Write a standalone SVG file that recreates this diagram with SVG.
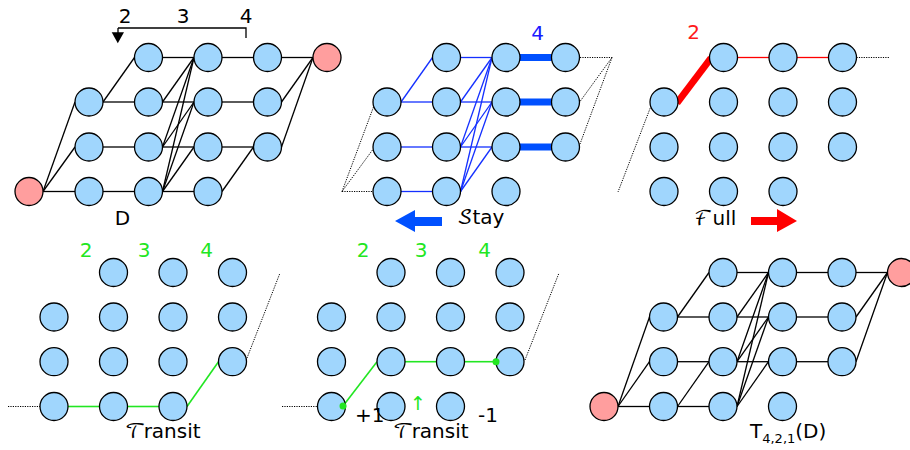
<svg xmlns="http://www.w3.org/2000/svg" width="910" height="450" viewBox="0 0 910 450">
<style>
.n{fill:#a0d6fd;stroke:#000;stroke-width:1.3}
.r{fill:#ff9e9e;stroke:#000;stroke-width:1.3}
.e line{stroke:#000;stroke-width:1.3}
.b line{stroke:#1430ff;stroke-width:1.3}
.bt line{stroke:#0050ff;stroke-width:7}
.rd{stroke:#ff0000;stroke-width:1.3}
.rt{stroke:#ff0000;stroke-width:7}
.g line{stroke:#22e622;stroke-width:1.6}
.d line{stroke:#000;stroke-width:1;stroke-dasharray:1.2 1.2}
text{font-family:"DejaVu Sans","Liberation Sans",sans-serif;font-size:20px}
.sc{font-family:"DejaVu Math TeX Gyre","DejaVu Sans","DejaVu Serif",serif}
.gl{fill:#22e622;text-anchor:middle}
</style>

<!-- Panel 1: D -->
<g id="panel1">
  <g id="p1-connectors" class="e">
    <line x1="162.5" y1="57.5" x2="194" y2="57.5"/><line x1="222" y1="57.5" x2="253.5" y2="57.5"/><line x1="281.5" y1="57.5" x2="313" y2="57.5"/>
    <line x1="103" y1="102" x2="134.5" y2="102"/><line x1="162.5" y1="102" x2="194" y2="102"/><line x1="222" y1="102" x2="253.5" y2="102"/>
    <line x1="103" y1="147" x2="134.5" y2="147"/><line x1="162.5" y1="147" x2="194" y2="147"/><line x1="222" y1="147" x2="253.5" y2="147"/>
    <line x1="43" y1="191.5" x2="75" y2="191.5"/><line x1="103" y1="191.5" x2="134.5" y2="191.5"/><line x1="162.5" y1="191.5" x2="194" y2="191.5"/>
    <line x1="43" y1="191.5" x2="75" y2="147"/><line x1="43" y1="191.5" x2="75" y2="102"/>
    <line x1="103" y1="102" x2="134.5" y2="57.5"/>
    <line x1="162.5" y1="102" x2="194" y2="57.5"/>
    <line x1="162.5" y1="147" x2="194" y2="57.5"/><line x1="162.5" y1="147" x2="194" y2="102"/>
    <line x1="162.5" y1="191.5" x2="194" y2="57.5"/><line x1="162.5" y1="191.5" x2="194" y2="102"/><line x1="162.5" y1="191.5" x2="194" y2="147"/>
    <line x1="222" y1="191.5" x2="253.5" y2="147"/>
    <line x1="281.5" y1="147" x2="313" y2="57.5"/><line x1="281.5" y1="102" x2="313" y2="57.5"/>
  </g>
  <g id="p1-n13"><circle class="n" cx="148.5" cy="57.5" r="14"/></g>
  <g id="p1-n14"><circle class="n" cx="208" cy="57.5" r="14"/></g>
  <g id="p1-n15"><circle class="n" cx="267.5" cy="57.5" r="14"/></g>
  <g id="p1-t"><circle class="r" cx="327" cy="57.5" r="14"/></g>
  <g id="p1-n22"><circle class="n" cx="89" cy="102" r="14"/></g>
  <g id="p1-n23"><circle class="n" cx="148.5" cy="102" r="14"/></g>
  <g id="p1-n24"><circle class="n" cx="208" cy="102" r="14"/></g>
  <g id="p1-n25"><circle class="n" cx="267.5" cy="102" r="14"/></g>
  <g id="p1-n32"><circle class="n" cx="89" cy="147" r="14"/></g>
  <g id="p1-n33"><circle class="n" cx="148.5" cy="147" r="14"/></g>
  <g id="p1-n34"><circle class="n" cx="208" cy="147" r="14"/></g>
  <g id="p1-n35"><circle class="n" cx="267.5" cy="147" r="14"/></g>
  <g id="p1-s"><circle class="r" cx="29" cy="191.5" r="14"/></g>
  <g id="p1-n42"><circle class="n" cx="89" cy="191.5" r="14"/></g>
  <g id="p1-n43"><circle class="n" cx="148.5" cy="191.5" r="14"/></g>
  <g id="p1-n44"><circle class="n" cx="208" cy="191.5" r="14"/></g>
  <g id="p1-bracket">
    <path d="M118,28 H246 V38 M118,28 V33" fill="none" stroke="#000" stroke-width="1.3"/>
    <polygon points="111.7,32.3 124,32.3 117.8,43.3" fill="#000"/>
    <text x="125" y="23" text-anchor="middle">2</text>
    <text x="183" y="23" text-anchor="middle">3</text>
    <text x="246" y="23" text-anchor="middle">4</text>
  </g>
  <text x="122.5" y="225" text-anchor="middle">D</text>
</g>

<!-- Panel 2: Stay -->
<g id="panel2">
  <g id="p2-connectors">
    <g class="b">
      <line x1="460.5" y1="57.5" x2="492" y2="57.5"/>
      <line x1="401" y1="102" x2="432.5" y2="102"/><line x1="460.5" y1="102" x2="492" y2="102"/>
      <line x1="401" y1="147" x2="432.5" y2="147"/><line x1="460.5" y1="147" x2="492" y2="147"/>
      <line x1="401" y1="191.5" x2="432.5" y2="191.5"/>
      <line x1="401" y1="102" x2="432.5" y2="57.5"/>
      <line x1="460.5" y1="102" x2="492" y2="57.5"/>
      <line x1="460.5" y1="147" x2="492" y2="57.5"/><line x1="460.5" y1="147" x2="492" y2="102"/>
      <line x1="460.5" y1="191.5" x2="492" y2="57.5"/><line x1="460.5" y1="191.5" x2="492" y2="102"/><line x1="460.5" y1="191.5" x2="492" y2="147"/>
    </g>
    <g class="bt">
      <line x1="518" y1="57.5" x2="553" y2="57.5"/>
      <line x1="518" y1="102" x2="553" y2="102"/>
      <line x1="518" y1="147" x2="553" y2="147"/>
    </g>
    <g class="d">
      <line x1="580" y1="57.5" x2="612" y2="57.5"/>
      <line x1="612" y1="57.5" x2="580" y2="101.5"/>
      <line x1="612" y1="57.5" x2="580" y2="144"/>
      <line x1="342" y1="191.5" x2="373" y2="191.5"/>
      <line x1="342" y1="191.5" x2="372.5" y2="150"/>
      <line x1="342" y1="191.5" x2="373.5" y2="107"/>
    </g>
  </g>
  <g id="p2-n13"><circle class="n" cx="446.5" cy="57.5" r="14"/></g>
  <g id="p2-n14"><circle class="n" cx="506" cy="57.5" r="14"/></g>
  <g id="p2-n15"><circle class="n" cx="565.5" cy="57.5" r="14"/></g>
  <g id="p2-n22"><circle class="n" cx="387" cy="102" r="14"/></g>
  <g id="p2-n23"><circle class="n" cx="446.5" cy="102" r="14"/></g>
  <g id="p2-n24"><circle class="n" cx="506" cy="102" r="14"/></g>
  <g id="p2-n25"><circle class="n" cx="565.5" cy="102" r="14"/></g>
  <g id="p2-n32"><circle class="n" cx="387" cy="147" r="14"/></g>
  <g id="p2-n33"><circle class="n" cx="446.5" cy="147" r="14"/></g>
  <g id="p2-n34"><circle class="n" cx="506" cy="147" r="14"/></g>
  <g id="p2-n35"><circle class="n" cx="565.5" cy="147" r="14"/></g>
  <g id="p2-n42"><circle class="n" cx="387" cy="191.5" r="14"/></g>
  <g id="p2-n43"><circle class="n" cx="446.5" cy="191.5" r="14"/></g>
  <g id="p2-n44"><circle class="n" cx="506" cy="191.5" r="14"/></g>
  <text x="537.5" y="40" text-anchor="middle" fill="#1a1aff">4</text>
  <polygon points="442,217 415,217 415,210 395,221 415,232 415,226 442,226" fill="#0050ff"/>
  <text x="457" y="224"><tspan class="sc">𝒮</tspan>tay</text>
</g>

<!-- Panel 3: Full -->
<g id="panel3">
  <g id="p3-connectors">
    <line class="rt" x1="677" y1="103" x2="711" y2="58"/>
    <line class="rd" x1="737.5" y1="57.5" x2="769" y2="57.5"/>
    <line class="rd" x1="797" y1="57.5" x2="828.5" y2="57.5"/>
    <g class="d">
      <line x1="856.5" y1="57.5" x2="889" y2="57.5"/>
      <line x1="651" y1="106" x2="618" y2="192"/>
    </g>
  </g>
  <g id="p3-n13"><circle class="n" cx="723.5" cy="57.5" r="14"/></g>
  <g id="p3-n14"><circle class="n" cx="783" cy="57.5" r="14"/></g>
  <g id="p3-n15"><circle class="n" cx="842.5" cy="57.5" r="14"/></g>
  <g id="p3-n22"><circle class="n" cx="664" cy="102" r="14"/></g>
  <g id="p3-n23"><circle class="n" cx="723.5" cy="102" r="14"/></g>
  <g id="p3-n24"><circle class="n" cx="783" cy="102" r="14"/></g>
  <g id="p3-n25"><circle class="n" cx="842.5" cy="102" r="14"/></g>
  <g id="p3-n32"><circle class="n" cx="664" cy="147" r="14"/></g>
  <g id="p3-n33"><circle class="n" cx="723.5" cy="147" r="14"/></g>
  <g id="p3-n34"><circle class="n" cx="783" cy="147" r="14"/></g>
  <g id="p3-n35"><circle class="n" cx="842.5" cy="147" r="14"/></g>
  <g id="p3-n42"><circle class="n" cx="664" cy="191.5" r="14"/></g>
  <g id="p3-n43"><circle class="n" cx="723.5" cy="191.5" r="14"/></g>
  <g id="p3-n44"><circle class="n" cx="783" cy="191.5" r="14"/></g>
  <text x="693.5" y="39" text-anchor="middle" fill="#ff1a1a">2</text>
  <text x="694" y="225"><tspan class="sc">ℱ</tspan>ull</text>
  <polygon points="751,217 777,217 777,209 797,221 777,232 777,225 751,225" fill="#ff0000"/>
</g>

<!-- Panel 4: Transit -->
<g id="panel4">
  <g id="p4-connectors">
    <g class="g">
      <line x1="68" y1="406.5" x2="99.5" y2="406.5"/>
      <line x1="127.5" y1="406.5" x2="159" y2="406.5"/>
      <line x1="187" y1="406.5" x2="218.5" y2="361.7"/>
    </g>
    <g class="d">
      <line x1="8" y1="406.5" x2="40" y2="406.5"/>
      <line x1="247" y1="358" x2="280" y2="273"/>
    </g>
  </g>
  <g id="p4-n13"><circle class="n" cx="113.5" cy="272.5" r="14"/></g>
  <g id="p4-n14"><circle class="n" cx="173" cy="272.5" r="14"/></g>
  <g id="p4-n15"><circle class="n" cx="232.5" cy="272.5" r="14"/></g>
  <g id="p4-n22"><circle class="n" cx="54" cy="317" r="14"/></g>
  <g id="p4-n23"><circle class="n" cx="113.5" cy="317" r="14"/></g>
  <g id="p4-n24"><circle class="n" cx="173" cy="317" r="14"/></g>
  <g id="p4-n25"><circle class="n" cx="232.5" cy="317" r="14"/></g>
  <g id="p4-n32"><circle class="n" cx="54" cy="361.7" r="14"/></g>
  <g id="p4-n33"><circle class="n" cx="113.5" cy="361.7" r="14"/></g>
  <g id="p4-n34"><circle class="n" cx="173" cy="361.7" r="14"/></g>
  <g id="p4-n35"><circle class="n" cx="232.5" cy="361.7" r="14"/></g>
  <g id="p4-n42"><circle class="n" cx="54" cy="406.5" r="14"/></g>
  <g id="p4-n43"><circle class="n" cx="113.5" cy="406.5" r="14"/></g>
  <g id="p4-n44"><circle class="n" cx="173" cy="406.5" r="14"/></g>
  <text class="gl" x="86" y="256.7">2</text>
  <text class="gl" x="144" y="256.7">3</text>
  <text class="gl" x="206.7" y="256.7">4</text>
  <text x="125" y="438"><tspan class="sc">𝒯</tspan><tspan dx="-2">ransit</tspan></text>
</g>

<!-- Panel 5: Transit with +1/-1 -->
<g id="panel5">
  <g id="p5-connectors">
    <g class="g">
      <line x1="343" y1="406" x2="377" y2="361.7"/>
      <line x1="405" y1="361.7" x2="436.5" y2="361.7"/>
      <line x1="464.5" y1="361.7" x2="496" y2="361.7"/>
    </g>
    <g class="d">
      <line x1="282" y1="406.5" x2="317.5" y2="406.5"/>
      <line x1="525" y1="360" x2="559" y2="273"/>
    </g>
  </g>
  <g id="p5-n13"><circle class="n" cx="391" cy="272.5" r="14"/></g>
  <g id="p5-n14"><circle class="n" cx="450.5" cy="272.5" r="14"/></g>
  <g id="p5-n15"><circle class="n" cx="510" cy="272.5" r="14"/></g>
  <g id="p5-n22"><circle class="n" cx="331.5" cy="317" r="14"/></g>
  <g id="p5-n23"><circle class="n" cx="391" cy="317" r="14"/></g>
  <g id="p5-n24"><circle class="n" cx="450.5" cy="317" r="14"/></g>
  <g id="p5-n25"><circle class="n" cx="510" cy="317" r="14"/></g>
  <g id="p5-n32"><circle class="n" cx="331.5" cy="361.7" r="14"/></g>
  <g id="p5-n33"><circle class="n" cx="391" cy="361.7" r="14"/></g>
  <g id="p5-n34"><circle class="n" cx="450.5" cy="361.7" r="14"/></g>
  <g id="p5-n35"><circle class="n" cx="510" cy="361.7" r="14"/></g>
  <g id="p5-n42"><circle class="n" cx="331.5" cy="406.5" r="14"/></g>
  <g id="p5-n43"><circle class="n" cx="391" cy="406.5" r="14"/></g>
  <g id="p5-n44"><circle class="n" cx="450.5" cy="406.5" r="14"/></g>
  <circle cx="343" cy="406" r="3.5" fill="#22e622"/>
  <circle cx="496" cy="361.7" r="3.5" fill="#22e622"/>
  <text class="gl" x="363" y="256.7">2</text>
  <text class="gl" x="421" y="256.7">3</text>
  <text class="gl" x="484.5" y="256.7">4</text>
  <text x="355" y="422">+1</text>
  <text x="478" y="422">-1</text>
  <text class="gl" x="418" y="410" style="font-size:19px">↑</text>
  <text x="393" y="438"><tspan class="sc">𝒯</tspan><tspan dx="-2">ransit</tspan></text>
</g>

<!-- Panel 6: T_{4,2,1}(D) -->
<g id="panel6">
  <g id="p6-connectors" class="e">
    <line x1="737" y1="272.5" x2="768.5" y2="272.5"/><line x1="796.5" y1="272.5" x2="828" y2="272.5"/><line x1="856" y1="272.5" x2="887.5" y2="272.5"/>
    <line x1="677.5" y1="317" x2="709" y2="317"/><line x1="737" y1="317" x2="768.5" y2="317"/><line x1="796.5" y1="317" x2="828" y2="317"/>
    <line x1="677.5" y1="361.7" x2="709" y2="361.7"/><line x1="737" y1="361.7" x2="768.5" y2="361.7"/><line x1="796.5" y1="361.7" x2="828" y2="361.7"/>
    <line x1="618" y1="406.5" x2="649.5" y2="406.5"/><line x1="677.5" y1="406.5" x2="709" y2="406.5"/>
    <line x1="618" y1="406.5" x2="649.5" y2="361.7"/><line x1="618" y1="406.5" x2="649.5" y2="317"/>
    <line x1="677.5" y1="317" x2="709" y2="272.5"/>
    <line x1="677.5" y1="406.5" x2="709" y2="361.7"/>
    <line x1="737" y1="317" x2="768.5" y2="272.5"/>
    <line x1="737" y1="361.7" x2="768.5" y2="272.5"/><line x1="737" y1="361.7" x2="768.5" y2="317"/>
    <line x1="737" y1="406.5" x2="768.5" y2="272.5"/><line x1="737" y1="406.5" x2="768.5" y2="317"/><line x1="737" y1="406.5" x2="768.5" y2="361.7"/>
    <line x1="856" y1="361.7" x2="887.5" y2="272.5"/><line x1="856" y1="317" x2="887.5" y2="272.5"/>
  </g>
  <g id="p6-n13"><circle class="n" cx="723" cy="272.5" r="14"/></g>
  <g id="p6-n14"><circle class="n" cx="782.5" cy="272.5" r="14"/></g>
  <g id="p6-n15"><circle class="n" cx="842" cy="272.5" r="14"/></g>
  <g id="p6-t"><circle class="r" cx="901.5" cy="272.5" r="14"/></g>
  <g id="p6-n22"><circle class="n" cx="663.5" cy="317" r="14"/></g>
  <g id="p6-n23"><circle class="n" cx="723" cy="317" r="14"/></g>
  <g id="p6-n24"><circle class="n" cx="782.5" cy="317" r="14"/></g>
  <g id="p6-n25"><circle class="n" cx="842" cy="317" r="14"/></g>
  <g id="p6-n32"><circle class="n" cx="663.5" cy="361.7" r="14"/></g>
  <g id="p6-n33"><circle class="n" cx="723" cy="361.7" r="14"/></g>
  <g id="p6-n34"><circle class="n" cx="782.5" cy="361.7" r="14"/></g>
  <g id="p6-n35"><circle class="n" cx="842" cy="361.7" r="14"/></g>
  <g id="p6-s"><circle class="r" cx="604" cy="406.5" r="14"/></g>
  <g id="p6-n42"><circle class="n" cx="663.5" cy="406.5" r="14"/></g>
  <g id="p6-n43"><circle class="n" cx="723" cy="406.5" r="14"/></g>
  <g id="p6-n44"><circle class="n" cx="782.5" cy="406.5" r="14"/></g>
  <text x="750" y="438">T<tspan style="font-size:13px" dy="5">4,2,1</tspan><tspan dy="-5">(D)</tspan></text>
</g>
</svg>
